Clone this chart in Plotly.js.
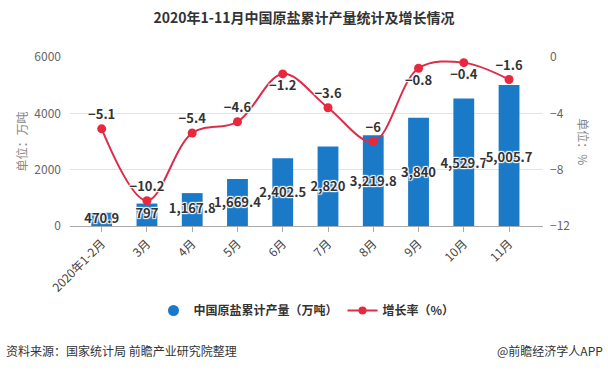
<!DOCTYPE html>
<html><head><meta charset="utf-8">
<script src="https://cdn.plot.ly/plotly-3.0.1.min.js"></script>
<style>html,body{margin:0;padding:0;background:#fff;}#chart{width:608px;height:371px;}</style>
</head><body><div id="chart"></div>
<script>
const categories = ["2020年1-2月","3月","4月","5月","6月","7月","8月","9月","10月","11月"];
const output = [470.9, 797, 1167.8, 1669.4, 2402.5, 2820, 3219.8, 3840, 4529.7, 5005.7];
const outputLabels = ["470.9","797","1,167.8","1,669.4","2,402.5","2,820","3,219.8","3,840","4,529.7","5,005.7"];
const growth = [-5.1, -10.2, -5.4, -4.6, -1.2, -3.6, -6, -0.8, -0.4, -1.6];
const growthLabels = ["−5.1","−10.2","−5.4","−4.6","−1.2","−3.6","−6","−0.8","−0.4","−1.6"];

const FONT = '"Noto Sans CJK SC", "Noto Sans", sans-serif';
const halo = "1px 1px 1px #fff, -1px -1px 1px #fff, 1px -1px 1px #fff, -1px 1px 1px #fff";
const BLUE = "#1a7ac8";
const RED = "#dc2c4c";

const traces = [
  {type:"bar", x:categories, y:output, name:"中国原盐累计产量（万吨）",
   marker:{color:BLUE}, width:0.46, hoverinfo:"x+y", showlegend:false},
  {type:"scatter", mode:"text", x:categories, y:output.map(v=>v*0.48), text:outputLabels,
   textposition:"middle center", textfont:{family:FONT, size:13, color:"#333", weight:"bold", shadow:halo},
   showlegend:false, hoverinfo:"skip"},
  {type:"scatter", mode:"lines+markers+text", x:categories, y:growth, yaxis:"y2",
   name:"增长率（%）", text:growthLabels,
   textposition:["top center","top center","top center","top center","bottom center","top center","top center","bottom center","bottom center","top center"],
   textfont:{family:FONT, size:13, color:"#333", weight:"bold", shadow:halo},
   line:{color:RED, width:2, shape:"spline", smoothing:1},
   marker:{color:"#e8283c", size:9}, showlegend:false},
  // legend helpers
  {type:"scatter", mode:"markers", x:[null], y:[null], name:"中国原盐累计产量（万吨）",
   marker:{color:BLUE, size:11, symbol:"circle"}, showlegend:true},
  {type:"scatter", mode:"lines+markers", x:[null], y:[null], name:"增长率（%）", yaxis:"y2",
   line:{color:RED, width:2}, marker:{color:"#e8283c", size:8}, showlegend:true}
];

const layout = {
  width:608, height:371,
  margin:{l:70, r:65, t:57, b:145},
  paper_bgcolor:"#fff", plot_bgcolor:"#fff",
  font:{family:FONT, size:12, color:"#333"},
  title:{text:"<b>2020年1-11月中国原盐累计产量统计及增长情况</b>", x:0.5, xanchor:"center", y:0.95, yanchor:"middle",
         font:{family:FONT, size:14, color:"#333"}},
  xaxis:{type:"category", range:[-0.7, 9.75], showline:true, linecolor:"#aaa", linewidth:1,
         ticks:"outside", ticklen:5, tickcolor:"#aaa", tickangle:-45,
         tickfont:{family:FONT, size:12, color:"#444"}, showgrid:false, fixedrange:true},
  yaxis:{range:[0,6000], tickvals:[0,2000,4000,6000], showgrid:true, gridcolor:"#e3e3e3",
         zeroline:false, showline:false, tickfont:{family:FONT, size:12, color:"#666"},
         ticklabelstandoff:8,
         title:{text:"单位：万吨", font:{family:FONT, size:12, color:"#888"}, standoff:4}},
  yaxis2:{overlaying:"y", side:"right", range:[-12,0], tickvals:[0,-4,-8,-12],
          showgrid:false, zeroline:false, showline:false,
          tickfont:{family:FONT, size:12, color:"#666"}, ticklabelstandoff:6},
  legend:{orientation:"h", x:0.5, xanchor:"center", y:-0.50, yanchor:"middle",
          font:{family:FONT, size:12, color:"#333", weight:"bold"}, itemwidth:30, traceorder:"normal"},
  annotations:[
    {text:"单位：%", xref:"paper", yref:"paper", x:1.085, y:0.5, xanchor:"center", textangle:90, showarrow:false,
     font:{family:FONT, size:12, color:"#888"}},
    {text:"资料来源：国家统计局 前瞻产业研究院整理", xref:"paper", yref:"paper", xanchor:"left", yanchor:"middle",
     x:-66/473, y:-124/169, showarrow:false, font:{family:FONT, size:12, color:"#333"}},
    {text:"@前瞻经济学人APP", xref:"paper", yref:"paper", xanchor:"right", yanchor:"middle",
     x:1+62/473, y:-124/169, showarrow:false, font:{family:FONT, size:12, color:"#333"}}
  ]
};

Plotly.newPlot("chart", traces, layout, {displayModeBar:false, staticPlot:true});
</script>
</body></html>
